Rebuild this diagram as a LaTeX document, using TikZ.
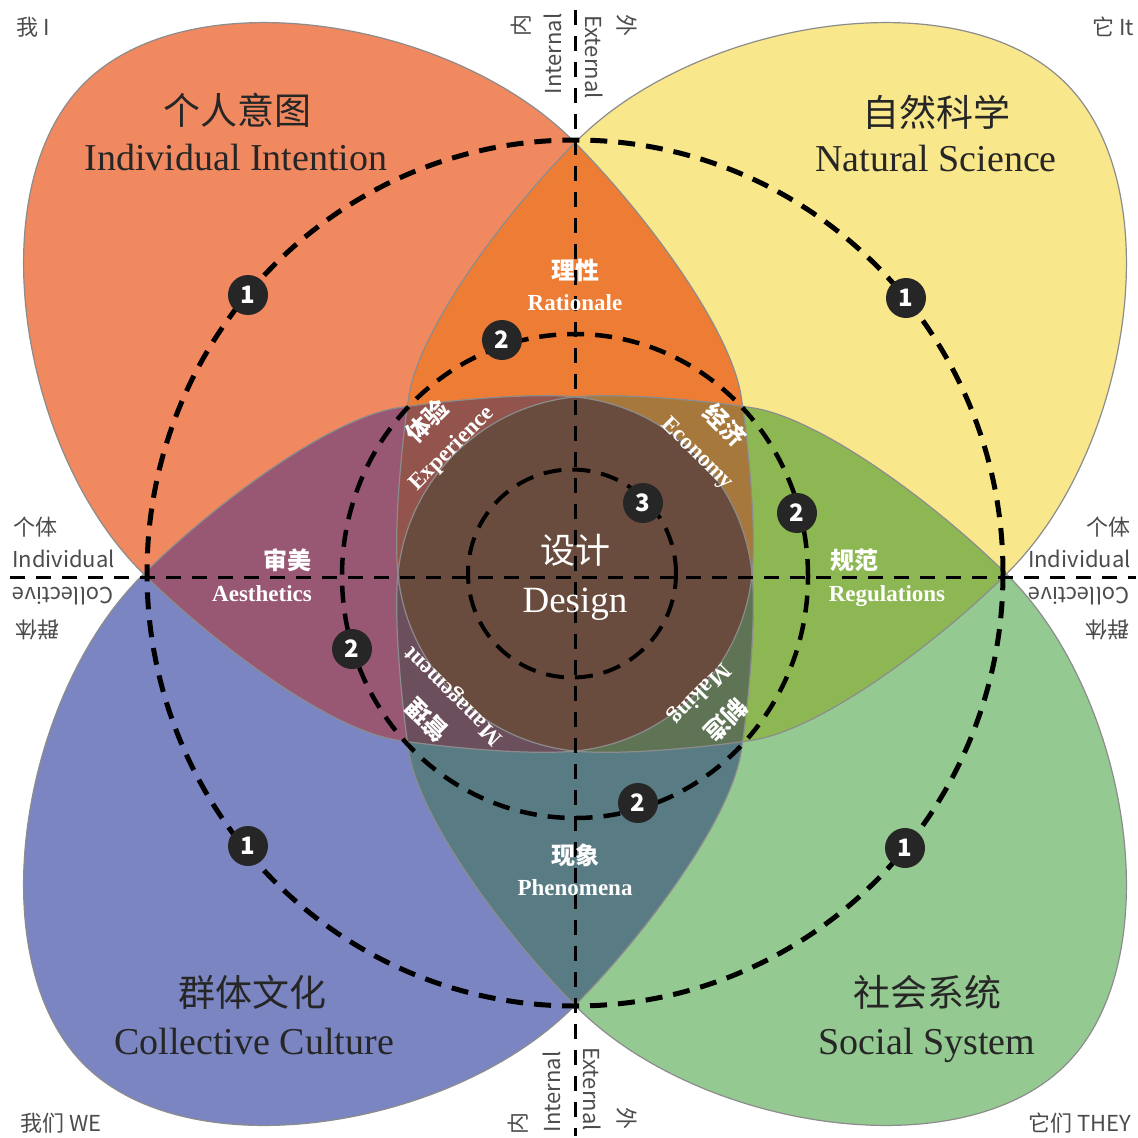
\documentclass[tikz,border=0pt]{standalone}
\usepackage{fontspec}
\setmainfont{Liberation Serif}
\newfontfamily\cjk{Noto Sans CJK SC}
\definecolor{cO}{RGB}{240,136,96}
\definecolor{cY}{RGB}{249,231,140}
\definecolor{cB}{RGB}{122,133,194}
\definecolor{cG}{RGB}{148,201,145}
\definecolor{cOY}{RGB}{237,125,52}
\definecolor{cOB}{RGB}{152,87,115}
\definecolor{cYG}{RGB}{141,183,82}
\definecolor{cBG}{RGB}{89,124,132}
\definecolor{cOYB}{RGB}{147,84,77}
\definecolor{cOYG}{RGB}{167,120,60}
\definecolor{cOBG}{RGB}{108,79,92}
\definecolor{cYBG}{RGB}{95,116,85}
\definecolor{cAll}{RGB}{106,76,62}
\begin{document}
\begin{tikzpicture}[x=1pt,y=1pt,
  lobeshape/.style={insert path={(694,0) .. controls (694,150) and (480,305) .. (308,305)
     .. controls (208,305) and (64,284) .. (8,243)
     .. controls (-32,213.5) and (-96.6,160) .. (-125.2,125.2)
     .. controls (-185,52.4) and (-185,-52.4) .. (-125.2,-125.2)
     .. controls (-96.6,-160) and (-32,-213.5) .. (8,-243)
     .. controls (64,-284) and (208,-305) .. (308,-305)
     .. controls (480,-305) and (694,-150) .. (694,0) -- cycle}},
  lobeO/.style={shift={(575,-574)},rotate=135,lobeshape},
  lobeY/.style={shift={(575,-574)},rotate=45,lobeshape},
  lobeB/.style={shift={(575,-574)},rotate=225,lobeshape},
  lobeG/.style={shift={(575,-574)},rotate=-45,lobeshape},
  edge/.style={draw=black!45,line width=1.2pt},
  bigdash/.style={line width=5pt,dash pattern=on 17pt off 11pt},
  middash/.style={line width=4.5pt,dash pattern=on 17pt off 11pt},
  smalldash/.style={line width=4pt,dash pattern=on 18pt off 11pt},
  axisline/.style={line width=3pt,dash pattern=on 15pt off 11pt},
  marker/.style={circle,fill=black!85,text=white,inner sep=0pt,minimum size=40pt,font=\cjk\bfseries\fontsize{24}{24}\selectfont},
  titlecn/.style={text=black!85,font=\cjk\fontsize{37}{40}\selectfont,anchor=base,inner sep=0pt},
  titleen/.style={text=black!85,font=\fontsize{38}{40}\selectfont,anchor=base,inner sep=0pt},
  regcn/.style={text=white,font=\cjk\bfseries\fontsize{24}{26}\selectfont,inner sep=0pt},
  regen/.style={text=white,font=\bfseries\fontsize{23}{25}\selectfont,inner sep=0pt},
  sidelab/.style={text=black!70,font=\cjk\fontsize{22}{24}\selectfont,inner sep=0pt}
]
\useasboundingbox (0,0) rectangle (1138,-1138);
\fill[white] (0,0) rectangle (1138,-1138);
% single lobes
\fill[cO,lobeO];
\fill[cY,lobeY];
\fill[cB,lobeB];
\fill[cG,lobeG];
% pairs
\begin{scope}\clip[lobeO];\fill[cOBG,lobeG];\fill[cOY,lobeY];\fill[cOB,lobeB];\end{scope}
\begin{scope}\clip[lobeY];\fill[cYBG,lobeB];\fill[cYG,lobeG];\end{scope}
\begin{scope}\clip[lobeB];\fill[cBG,lobeG];\end{scope}
% triples
\begin{scope}\clip[lobeO];\clip[lobeY];\fill[cOYB,lobeB];\fill[cOYG,lobeG];\end{scope}
\begin{scope}\clip[lobeB];\clip[lobeG];\fill[cOBG,lobeO];\fill[cYBG,lobeY];\end{scope}
% all four
\begin{scope}\clip[lobeO];\clip[lobeY];\clip[lobeB];\fill[cAll,lobeG];\end{scope}
% outlines
\draw[edge,lobeO];
\draw[edge,lobeY];
\draw[edge,lobeB];
\draw[edge,lobeG];
% dashed circles
\draw[bigdash] (575,-573) ellipse [x radius=428,y radius=433];
\draw[middash] (575,-576) ellipse [x radius=233,y radius=242];
\draw[smalldash] (572,-573.5) circle [radius=104];
% axes
\coordinate (hl) at (10,-577);
\coordinate (hr) at (1136,-577);
\coordinate (vt) at (575,-10);
\coordinate (vb) at (575,-1136);
\draw[axisline] (hl) -- (hr);
\draw[axisline] (vt) -- (vb);
% markers
\node[marker] (m1a) at (248,-295) {1};
\node[marker] (m1b) at (906,-298) {1};
\node[marker] (m1c) at (248,-846) {1};
\node[marker] (m1d) at (905,-848) {1};
\node[marker] (m2a) at (502,-340) {2};
\node[marker] (m2b) at (797,-513) {2};
\node[marker] (m2c) at (352,-649) {2};
\node[marker] (m2d) at (638,-803) {2};
\node[marker] (m3) at (643,-503) {3};
% titles
\node[titlecn] (tOcn) at (237,-124) {个人意图};
\node[titleen] (tOen) at (236,-170) {Individual Intention};
\node[titlecn] (tYcn) at (936,-126) {自然科学};
\node[titleen] (tYen) at (936,-171) {Natural Science};
\node[titlecn] (tBcn) at (252,-1006) {群体文化};
\node[titleen] (tBen) at (254,-1054) {Collective Culture};
\node[titlecn] (tGcn) at (927,-1006) {社会系统};
\node[titleen] (tGen) at (927,-1054) {Social System};
% region labels
\node[regcn,anchor=base] (rOYcn) at (575,-279) {理性};
\node[regen,anchor=base] (rOYen) at (575,-310) {Rationale};
\node[regcn,anchor=base] (rOBcn) at (287,-569) {审美};
\node[regen,anchor=base] (rOBen) at (262,-601) {Aesthetics};
\node[regcn,anchor=base] (rYGcn) at (854,-569) {规范};
\node[regen,anchor=base] (rYGen) at (887,-601) {Regulations};
\node[regcn,anchor=base] (rBGcn) at (575,-864) {现象};
\node[regen,anchor=base] (rBGen) at (575,-895) {Phenomena};
\node[regcn,rotate=45] (r1cn) at (427,-421) {体验};
\node[regen,rotate=45] (r1en) at (452,-449) {Experience};
\node[regcn,rotate=-45] (r2cn) at (725,-425) {经济};
\node[regen,rotate=-45] (r2en) at (697,-454) {Economy};
\node[regcn,rotate=135] (r3cn) at (427,-720) {管理};
\node[regen,rotate=135] (r3en) at (454,-695) {Management};
\node[regcn,rotate=225] (r4cn) at (726,-720) {制造};
\node[regen,rotate=225] (r4en) at (699,-693) {Making};
\node[text=white,font=\cjk\fontsize{35}{38}\selectfont,anchor=base,inner sep=0pt] (dcn) at (575,-563) {设计};
\node[text=white,font=\fontsize{37}{40}\selectfont,anchor=base,inner sep=0pt] (den) at (575,-612) {Design};
% side labels
\node[sidelab,anchor=base west] (lcn) at (13,-535) {个体};
\node[sidelab,anchor=base west] (len) at (12,-567) {Individual};
\node[sidelab,rotate=180] (lcol) at (63,-596) {Collective};
\node[sidelab,rotate=180] (lqt) at (37,-630) {群体};
\node[sidelab,anchor=base east] (rcn) at (1131,-535) {个体};
\node[sidelab,anchor=base east] (ren) at (1131,-567) {Individual};
\node[sidelab,rotate=180] (rcol) at (1079,-596) {Collective};
\node[sidelab,rotate=180] (rqt) at (1107,-630) {群体};
\node[sidelab,rotate=90] (tint) at (553,-54) {Internal};
\node[sidelab,rotate=-90] (text) at (594,-57) {External};
\node[sidelab,rotate=90] (tnei) at (521,-25) {内};
\node[sidelab,rotate=-90] (twai) at (627,-25) {外};
\node[sidelab,rotate=90] (bint) at (552,-1092) {Internal};
\node[sidelab,rotate=-90] (bext) at (592,-1089) {External};
\node[sidelab,rotate=90] (bnei) at (518,-1123) {内};
\node[sidelab,rotate=-90] (bwai) at (627,-1118) {外};
% corner labels
\node[sidelab] (cI) at (33,-27) {我 I};
\node[sidelab] (cIt) at (1113,-27) {它 It};
\node[sidelab] (cWe) at (61,-1123) {我们 WE};
\node[sidelab] (cThey) at (1080,-1123) {它们 THEY};
\end{tikzpicture}
\end{document}
